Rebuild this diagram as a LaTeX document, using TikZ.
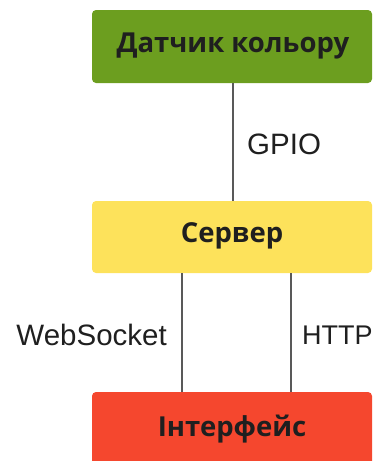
\documentclass[tikz,border=0pt]{standalone}
\usepackage{fontspec}
\setmainfont{Liberation Sans}
\newfontfamily\boxfont{Open Sans}
\begin{document}
\begin{tikzpicture}[x=1pt,y=-1pt,
  blk/.style={rounded corners=4pt, inner sep=0pt},
  blktext/.style={font=\boxfont\bfseries\fontsize{27.5}{30}\selectfont, text=black!88, anchor=center},
  lbl/.style={font=\fontsize{29.5}{32}\selectfont, text=black!88, inner sep=0pt},
  conn/.style={draw=black!65, line width=1.6pt}]
\useasboundingbox (0,0) rectangle (378,461);
\clip (0,0) rectangle (378,461);
\definecolor{gblk}{HTML}{6C9E1F}
\definecolor{yblk}{HTML}{FDE25B}
\definecolor{rblk}{HTML}{F5472E}
\fill[gblk, blk] (92,10) rectangle (372,83);
\fill[yblk, blk] (92,201) rectangle (372,273);
\fill[rblk, blk] (92,392) rectangle (372,480);
\node[blktext] (sensor) at (233,46) {Датчик кольору};
\node[blktext] (server) at (232,236) {Сервер};
\node[blktext] (ui) at (232,429) {Інтерфейс};
\coordinate (sb) at (233,83);
\coordinate (st) at (233,201);
\coordinate (w1) at (182,273);
\coordinate (w2) at (182,392);
\coordinate (h1) at (291,273);
\coordinate (h2) at (291,392);
\draw[conn] (sb) -- (st);
\draw[conn] (w1) -- (w2);
\draw[conn] (h1) -- (h2);
\node[lbl, anchor=west] (gpio) at (247,144) {GPIO};
\node[lbl, anchor=east] (ws) at (167,335) {WebSocket};
\node[lbl, anchor=west, font=\fontsize{27}{32}\selectfont] (http) at (302,335) {HTTP};
\end{tikzpicture}
\end{document}
